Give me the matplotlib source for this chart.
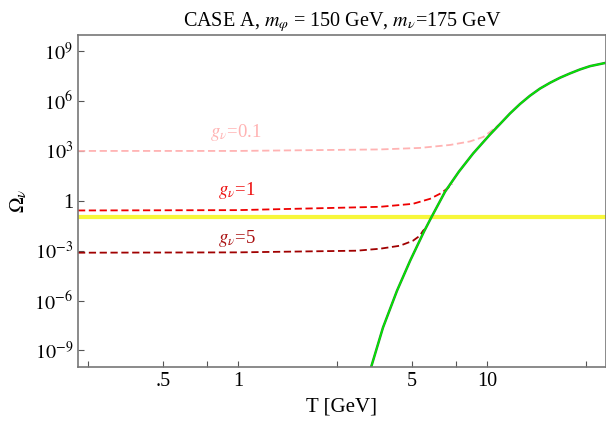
import numpy as np
import matplotlib
matplotlib.use("Agg")
import matplotlib.pyplot as plt
from matplotlib.ticker import FixedLocator, FixedFormatter, NullLocator

plt.rcParams['font.family'] = ['Liberation Serif', 'DejaVu Serif']
plt.rcParams['mathtext.fontset'] = 'stix'

# equilibrium curve (green): T [GeV], log10(Omega)
T_eq = [3.42, 3.82, 4.35, 4.91, 5.58, 5.96, 6.78, 7.7, 8.79, 10.26, 11.27, 12.35,
        13.55, 14.86, 16.3, 17.9, 19.6, 21.5, 23.6, 25.9, 30.0]
logom_eq = [-10.02, -7.62, -5.4, -3.6, -1.85, -1.02, 0.55, 1.75, 2.85, 3.98, 4.62, 5.25,
            5.82, 6.32, 6.75, 7.1, 7.4, 7.66, 7.9, 8.1, 8.3]

# g_nu = 0.1
T_g01 = [0.228, 1.0, 3.72, 5.37, 7.1, 8.53, 9.65, 10.26, 11.17]
logom_g01 = [3.0, 3.0, 3.09, 3.18, 3.36, 3.57, 3.84, 4.14, 4.58]
# g_nu = 1
T_g1 = [0.228, 1.0, 3.72, 5.04, 5.9, 6.46, 6.9, 7.23]
logom_g1 = [-0.58, -0.56, -0.36, -0.18, 0.12, 0.42, 0.72, 1.0]
# g_nu = 5
T_g5 = [0.228, 1.0, 3.0, 3.72, 4.47, 5.04, 5.37, 5.53, 5.63]
logom_g5 = [-3.12, -3.1, -3.0, -2.88, -2.7, -2.4, -2.1, -1.8, -1.7]

omega_obs = 0.11

# label anchors (left edge T, log10 Omega)
lab_T = [0.77, 0.83, 0.83]
lab_logom = [4.08, 0.6, -2.28]
lab_text = [r'$g_\nu$=0.1', r'$g_\nu$=1', r'$g_\nu$=5']
lab_col = ['#ffb3b3', '#ee1111', '#aa1111']

xticks = [0.25, 0.5, 0.75, 1, 2.5, 5, 7.5, 10, 25]
xticklabels = ['', '.5', '', '1', '', '5', '', '10', '']
yticks = [1e-9, 1e-6, 1e-3, 1, 1e3, 1e6, 1e9]
yticklabels = ['$10^{-9}$', '$10^{-6}$', '$10^{-3}$', '1', '$10^{3}$', '$10^{6}$', '$10^{9}$']

fig = plt.figure(figsize=(6.06, 4.21), dpi=100)
ax = fig.add_axes([0.1287, 0.128, 0.8713, 0.79])

ax.plot(T_g01, 10.0 ** np.array(logom_g01), color='#ffb3b3', lw=1.3, dashes=(4, 2))
ax.plot(T_g1, 10.0 ** np.array(logom_g1), color='#ee0000', lw=1.3, dashes=(4, 2))
ax.plot(T_g5, 10.0 ** np.array(logom_g5), color='#a00000', lw=1.3, dashes=(4, 2))
ax.axhline(omega_obs, color='#f7f73a', lw=3)
ax.plot(T_eq, 10.0 ** np.array(logom_eq), color='#2a8a2a', lw=1.8)
ax.plot(T_eq, 10.0 ** np.array(logom_eq), color='#00ee00', lw=1.0)

for t, lo, s, c in zip(lab_T, lab_logom, lab_text, lab_col):
    ax.text(t, 10.0 ** lo, s, color=c, fontsize=13.5, ha='left', va='center')

ax.set_xscale('log')
ax.set_yscale('log')
ax.set_xlim(0.228, 30)
ax.set_ylim(1e-10, 1e10)

ax.xaxis.set_major_locator(FixedLocator(xticks))
ax.xaxis.set_major_formatter(FixedFormatter(xticklabels))
ax.xaxis.set_minor_locator(NullLocator())
ax.yaxis.set_major_locator(FixedLocator(yticks))
ax.yaxis.set_major_formatter(FixedFormatter(yticklabels))
ax.yaxis.set_minor_locator(NullLocator())
ax.tick_params(direction='in', length=4, width=0.8, color='#555555', labelsize=14.5,
               top=False, right=False)
for s in ax.spines.values():
    s.set_color('#777777')
    s.set_linewidth(1.2)

ax.set_xlabel('T [GeV]', fontsize=15, labelpad=5)
ax.set_ylabel(r'$\Omega_\nu$', fontsize=15, labelpad=4)

ax.set_title(r'CASE A, $m_\varphi$ = 150 GeV, $m_\nu$=175 GeV', fontsize=14.5, pad=6)

fig.savefig('out.png', dpi=100)
